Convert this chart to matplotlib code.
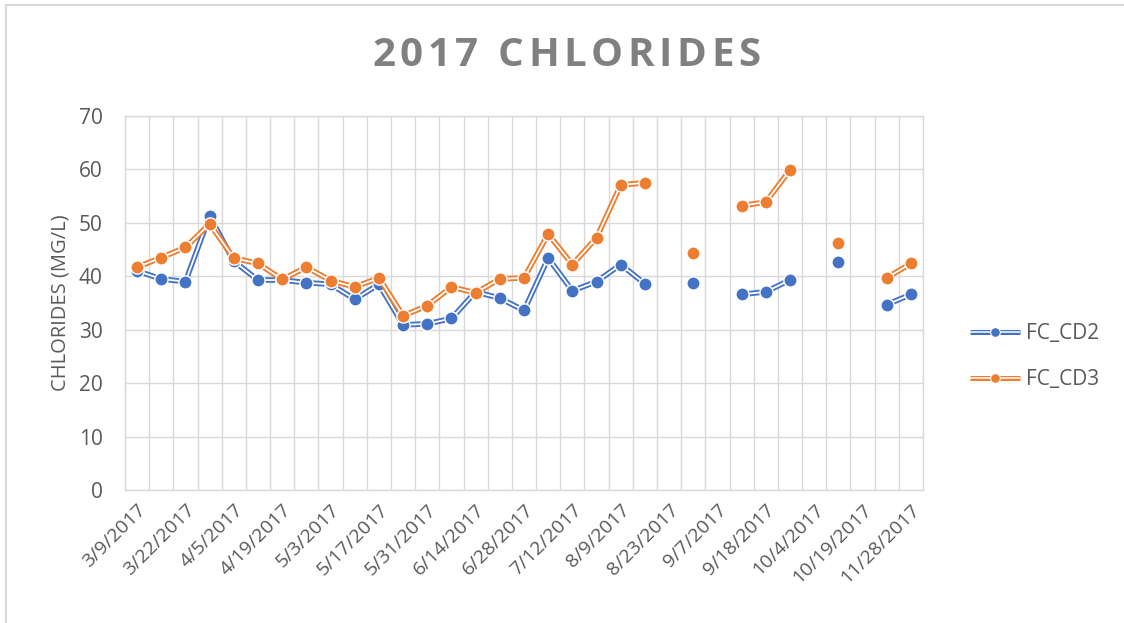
import numpy as np
import matplotlib
matplotlib.use("Agg")
import matplotlib.pyplot as plt
from matplotlib.lines import Line2D
from matplotlib.legend_handler import HandlerTuple
from matplotlib.font_manager import FontProperties

nan = np.nan

# sampling dates (only every other one is labelled on the axis)
tick_labels = ["3/9/2017", "3/22/2017", "4/5/2017", "4/19/2017", "5/3/2017",
               "5/17/2017", "5/31/2017", "6/14/2017", "6/28/2017", "7/12/2017",
               "8/9/2017", "8/23/2017", "9/7/2017", "9/18/2017", "10/4/2017",
               "10/19/2017", "11/28/2017"]

fc_cd2 = [41.0, 39.5, 39.0, 51.3, 42.8, 39.3, 39.3, 38.8, 38.5, 35.7, 38.5,
          30.9, 31.1, 32.1, 37.1, 35.9, 33.6, 43.4, 37.3, 39.0, 42.2, 38.6,
          nan, 38.8, nan, 36.6, 37.1, 39.3, nan, 42.6, nan, 34.7, 36.6]
fc_cd3 = [41.7, 43.5, 45.4, 49.8, 43.4, 42.4, 39.4, 41.7, 39.2, 38.0, 39.7,
          32.6, 34.5, 38.0, 36.9, 39.5, 39.7, 47.9, 42.2, 47.2, 57.1, 57.5,
          nan, 44.3, nan, 53.2, 53.9, 59.9, nan, 46.2, nan, 39.7, 42.4]

series = {"FC_CD2": (fc_cd2, "#4472C4"), "FC_CD3": (fc_cd3, "#ED7D31")}

plt.rcParams["font.family"] = ["Open Sans", "DejaVu Sans"]
text_color = "#595959"
grid_color = "#d9d9d9"

fig = plt.figure(figsize=(11.24, 6.23), dpi=100)
ax = fig.add_axes([0.1112, 0.2135, 0.71, 0.6003])

n = len(fc_cd2)
x = np.arange(n)

handles = []
for name, (vals, color) in series.items():
    # Excel-style double line: wide coloured stroke with a white stripe
    ax.plot(x, vals, color=color, lw=4.0, solid_capstyle="butt", zorder=3)
    ax.plot(x, vals, color="white", lw=1.3, solid_capstyle="butt", zorder=3)
    ax.plot(x, vals, ls="none", marker="o", ms=9.5, mfc=color, mec="white",
            mew=1.0, zorder=3)
    h_outer = Line2D([], [], color=color, lw=3.6, solid_capstyle="butt")
    h_inner = Line2D([], [], color="white", lw=1.1, solid_capstyle="butt")
    h_mark = Line2D([], [], ls="none", marker="o", ms=7, mfc=color, mec="white", mew=0.8)
    handles.append(((h_outer, h_inner, h_mark), name))

ax.set_xlim(-0.5, n - 0.5)
ax.set_ylim(0, 70)
ax.set_yticks(range(0, 71, 10))
ax.set_xticks(x[::2])
ax.set_xticklabels(tick_labels, rotation=45, ha="right", rotation_mode="anchor")
ax.set_xticks(np.arange(-0.5, n, 1), minor=True)
ax.grid(True, which="minor", axis="x", color=grid_color, lw=1)
ax.grid(True, which="major", axis="y", color=grid_color, lw=1)
ax.set_axisbelow(True)
ax.tick_params(axis="both", which="both", length=0, colors=text_color)
ax.tick_params(axis="y", pad=16, labelsize=15)
ax.tick_params(axis="x", pad=8, labelsize=14)
for s in ax.spines.values():
    s.set_color(grid_color)
    s.set_linewidth(1)

ax.set_ylabel("CHLORIDES (MG/L)", fontsize=14.5, color=text_color, labelpad=6)

ax.legend([h for h, _ in handles], [l for _, l in handles],
          handler_map={tuple: HandlerTuple(ndivide=1)},
          loc="center left", bbox_to_anchor=(1.035, 0.356), frameon=False,
          fontsize=15, labelcolor=text_color, handlelength=2.4,
          labelspacing=1.2, handletextpad=0.3)

# letter-spaced title
title = "2017 CHLORIDES"
tprop = FontProperties(family=["Open Sans", "DejaVu Sans"], weight="bold", size=29)
renderer = fig.canvas.get_renderer()
widths = [renderer.get_text_width_height_descent(c, tprop, ismath=False)[0] for c in title]
track = 4.6  # px between letters
total = sum(widths) + track * (len(title) - 1)
cx, cy = 566.5, 623 - 56
xpos = cx - total / 2
for c, w in zip(title, widths):
    fig.text(xpos / 1124, cy / 623, c, fontproperties=tprop, color="#808080",
             ha="left", va="center")
    xpos += w + track

# outer chart border (left and top visible)
fig.add_artist(Line2D([0.005, 0.005], [0.0, 0.992], color=grid_color, lw=1.5,
                      transform=fig.transFigure))
fig.add_artist(Line2D([0.005, 1.0], [0.992, 0.992], color=grid_color, lw=1.5,
                      transform=fig.transFigure))

fig.savefig("out.png", dpi=100)
